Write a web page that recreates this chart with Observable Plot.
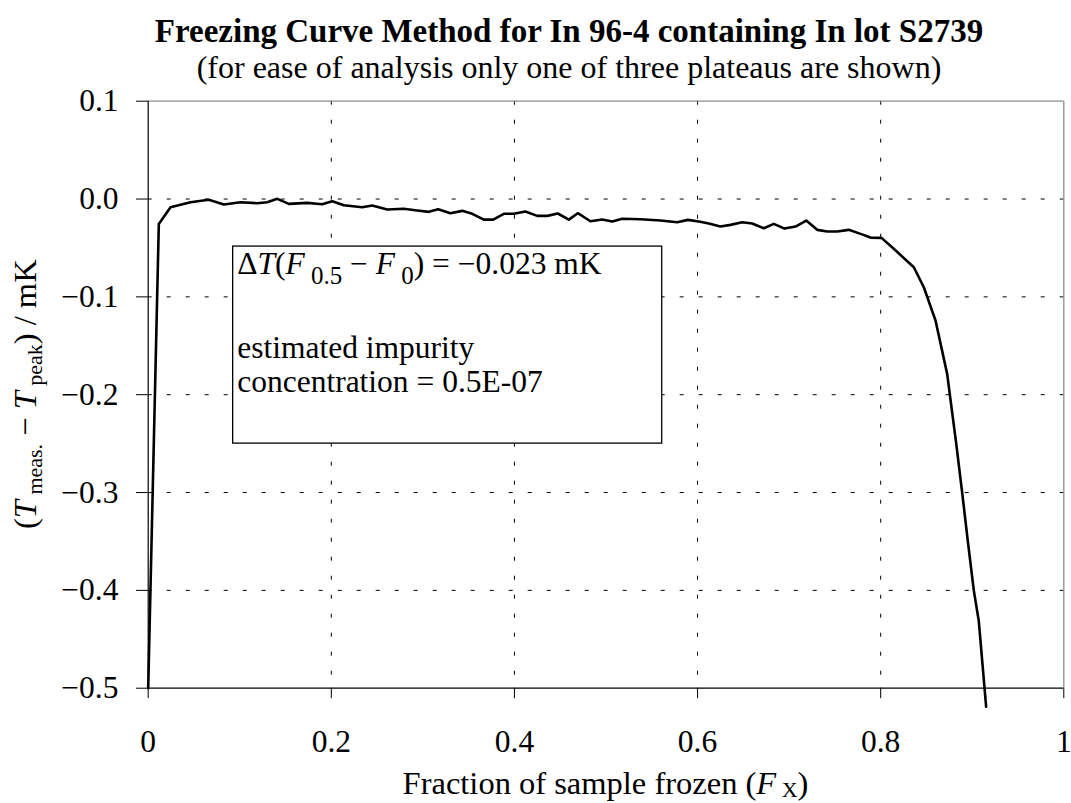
<!DOCTYPE html>
<html>
<head>
<meta charset="utf-8">
<script src="https://cdn.jsdelivr.net/npm/d3@7"></script>
<script src="https://cdn.jsdelivr.net/npm/@observablehq/plot@0.6"></script>
<style>
  html, body { margin: 0; padding: 0; background: #fff; overflow: hidden; }
  #header { width: 1071px; height: 80px; position: relative; font-family: "Liberation Serif", "Times New Roman", serif; color: #000; }
  #title, #subtitle { position: absolute; left: 0; width: 1071px; box-sizing: border-box; padding-left: 67px; text-align: center; white-space: nowrap; }
  #title { top: 14.5px; font-size: 33px; line-height: 33px; font-weight: bold; }
  #subtitle { top: 51px; font-size: 32px; line-height: 32px; }
</style>
</head>
<body>
<div id="header">
  <div id="title">Freezing Curve Method for In 96-4 containing In lot S2739</div>
  <div id="subtitle">(for ease of analysis only one of three plateaus are shown)</div>
</div>
<div id="chart"></div>
<script>
// ---- data ----
const fracFrozen = [0, 0.0116, 0.0244, 0.0462, 0.0662, 0.0826, 0.1008, 0.119, 0.130, 0.1409,
  0.1536, 0.1737, 0.190, 0.201, 0.2137, 0.2337, 0.2447, 0.261, 0.279, 0.2938,
  0.3065, 0.3167, 0.330, 0.343, 0.3539, 0.3666, 0.3768, 0.3884, 0.3993, 0.412,
  0.4249, 0.4358, 0.4474, 0.4594, 0.4692, 0.483, 0.4958, 0.5068, 0.5177, 0.5377,
  0.5595, 0.5778, 0.5894, 0.6014, 0.6123, 0.625, 0.636, 0.6487, 0.6597, 0.6724,
  0.6833, 0.695, 0.707, 0.7187, 0.7307, 0.7416, 0.7525, 0.7652, 0.778, 0.7889,
  0.8009, 0.8143, 0.8362, 0.8471, 0.8599, 0.8726, 0.8825, 0.889, 0.8952, 0.9017,
  0.9071, 0.9152];
const deltaT = [-0.5, -0.0254, -0.0084, -0.0033, -0.0008, -0.0056, -0.0033, -0.0043, -0.0033, 0.0002,
  -0.0049, -0.0039, -0.0053, -0.0022, -0.0063, -0.0084, -0.0066, -0.0107, -0.010, -0.0118,
  -0.0131, -0.0104, -0.0145, -0.0121, -0.0151, -0.021, -0.021, -0.0151, -0.0151, -0.0128,
  -0.0172, -0.0172, -0.0148, -0.021, -0.0145, -0.0227, -0.021, -0.023, -0.0202, -0.0206,
  -0.022, -0.0237, -0.0213, -0.023, -0.025, -0.0281, -0.0264, -0.0237, -0.025, -0.0299,
  -0.0254, -0.0302, -0.0281, -0.022, -0.0315, -0.0332, -0.0332, -0.0315, -0.0356, -0.0394,
  -0.0397, -0.0509, -0.0697, -0.0902, -0.1242, -0.1787, -0.25, -0.30, -0.35, -0.40,
  -0.431, -0.519];

const xTicks = [0, 0.2, 0.4, 0.6, 0.8, 1];
const xTickLabels = ["0", "0.2", "0.4", "0.6", "0.8", "1"];
const yTicks = [0.1, 0, -0.1, -0.2, -0.3, -0.4, -0.5];
const yTickLabels = ["0.1", "0.0", "\u22120.1", "\u22120.2", "\u22120.3", "\u22120.4", "\u22120.5"];
const xGrid = [0.2, 0.4, 0.6, 0.8];
const yGrid = [0, -0.1, -0.2, -0.3, -0.4];

// annotation box (in data units) and its text lines
const noteBox = {x1: 0.0928, x2: 0.5614, y1: -0.0486, y2: -0.25};
const noteLines = ["\u0394T(F 0.5 \u2212 F 0) = \u22120.023 mK", "estimated impurity", "concentration = 0.5E-07"];
const noteX = 0.0972;
const noteY = [-0.0661, -0.1517, -0.1874];
const noteData = noteLines.map((t, i) => ({t, x: noteX, y: noteY[i]}));

const W = 1071, H = 723;
const FS = 32.5, NFS = 31.5;
const chart = Plot.plot({
  width: W, height: H,
  marginLeft: 147.7, marginRight: 7.7, marginTop: 20.7, marginBottom: H - 607.7,
  style: {fontFamily: "Liberation Serif, Times New Roman, serif", fontSize: FS + "px", background: "white", color: "black", overflow: "visible"},
  x: {domain: [0, 1]},
  y: {domain: [-0.5, 0.1]},
  marks: [
    Plot.ruleX(xGrid, {stroke: "black", strokeWidth: 1, strokeDasharray: "4,15"}),
    Plot.ruleY(yGrid, {stroke: "black", strokeWidth: 1, strokeDasharray: "4,15"}),
    Plot.ruleY([0.1], {stroke: "#8c8c8c", strokeWidth: 1.3}),
    Plot.ruleX([1], {stroke: "#8c8c8c", strokeWidth: 1.3}),
    Plot.rect([noteBox], {x1: "x1", x2: "x2", y1: "y1", y2: "y2", fill: "white", stroke: "black", strokeWidth: 1.3}),
    Plot.text(noteData, {x: "x", y: "y", text: "t", textAnchor: "start", lineAnchor: "middle", fontSize: NFS, fill: "black"}),
    Plot.ruleX([0], {stroke: "black", strokeWidth: 1.2}),
    Plot.ruleY([-0.5], {stroke: "black", strokeWidth: 1.2}),
    Plot.axisX(xTicks, {tickFormat: d => xTickLabels[xTicks.indexOf(d)], tickSize: 10.5, tickPadding: 31, fontSize: 31.5, label: null, stroke: "black", fill: "black"}),
    Plot.axisY(yTicks, {tickFormat: d => yTickLabels[yTicks.indexOf(d)], tickSize: 11.7, tickPadding: 18, fontSize: 31.5, label: null, stroke: "black", fill: "black"}),
    Plot.line(fracFrozen, {x: fracFrozen, y: deltaT, stroke: "black", strokeWidth: 2.6, strokeLinejoin: "round"})
  ]
});
document.getElementById("chart").appendChild(chart);

const svg = d3.select(chart);
// rich text for the first annotation line
svg.selectAll("text").each(function () {
  if (this.textContent === noteLines[0]) {
    this.innerHTML = '\u0394<tspan font-style="italic">T</tspan>(<tspan font-style="italic">F</tspan>' +
      '<tspan font-size="25" dy="10"> 0.5</tspan><tspan dy="-10"> \u2212 </tspan>' +
      '<tspan font-style="italic">F</tspan><tspan font-size="25" dy="10"> 0</tspan>' +
      '<tspan dy="-10">) = \u22120.023 mK</tspan>';
  }
});
const xs = chart.scale("x"), ys = chart.scale("y");
const cx = (xs.range[0] + xs.range[1]) / 2;
const cy = (ys.range[0] + ys.range[1]) / 2;
svg.append("text")
  .attr("x", cx).attr("y", 713.5)
  .attr("text-anchor", "middle").attr("font-size", FS).attr("fill", "black")
  .html('Fraction of sample frozen (<tspan font-style="italic">F</tspan><tspan font-size="22" dy="3"> X</tspan><tspan dy="-3">)</tspan>');
svg.append("text")
  .attr("transform", `translate(36,${cy}) rotate(-90)`)
  .attr("text-anchor", "middle").attr("font-size", FS).attr("fill", "black")
  .html('(<tspan font-style="italic">T</tspan><tspan font-size="22" dy="6"> meas.</tspan><tspan dy="-6"> \u2212 </tspan>' +
        '<tspan font-style="italic">T</tspan><tspan font-size="22" dy="6"> peak</tspan><tspan dy="-6">) / mK</tspan>');
</script>
</body>
</html>
